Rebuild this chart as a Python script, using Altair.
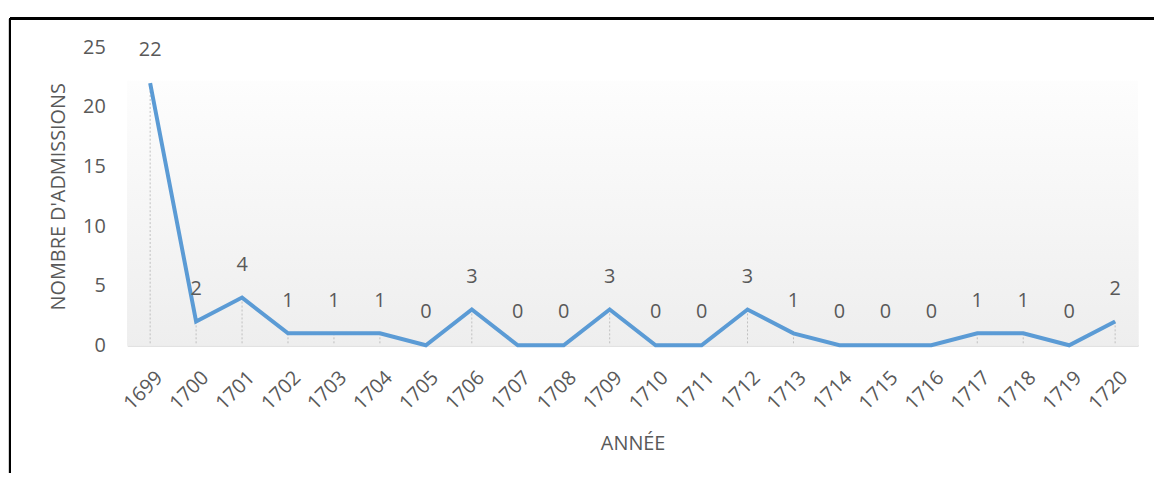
import altair as alt
import pandas as pd

years = [str(y) for y in range(1699, 1721)]
admissions = [22, 2, 4, 1, 1, 1, 0, 3, 0, 0, 3, 0, 0, 3, 1, 0, 0, 0, 1, 1, 0, 2]

df = pd.DataFrame({"annee": years, "n": admissions})

W, H = 1018, 300
FONT = "Open Sans"
TXT = "#595959"

xscale = alt.Scale(type="point", padding=0.5)
xenc = alt.X("annee:N", sort=years, scale=xscale,
             axis=alt.Axis(title="ANNÉE", labelAngle=-45, labelFontSize=20, labelColor=TXT,
                           labelFont=FONT, titleFont=FONT, titleFontSize=20, titleFontWeight="normal",
                           titleColor=TXT, domainColor="#d9d9d9", domainWidth=2, ticks=False,
                           labelPadding=22, labelOffset=2, titlePadding=20, grid=False))
yscale = alt.Scale(domain=[0, 25], nice=False)
yenc = alt.Y("n:Q", scale=yscale,
             axis=alt.Axis(title="NOMBRE D'ADMISSIONS", values=[0, 5, 10, 15, 20, 25],
                           labelFontSize=20, labelColor=TXT, labelFont=FONT, domain=False,
                           ticks=False, grid=False, labelPadding=22, titleFont=FONT,
                           titleFontSize=20, titleFontWeight="normal", titleColor=TXT,
                           titlePadding=14))

base = alt.Chart(df)

bg = base.mark_rect(fill=alt.Gradient(
    gradient="linear", x1=0, y1=0, x2=0, y2=1,
    stops=[alt.GradientStop(color="#fdfdfd", offset=0),
           alt.GradientStop(color="#eeeeee", offset=1)])).encode(
    x=alt.value(0), x2=alt.value(W), y=alt.datum(22.2), y2=alt.datum(0))

drops = base.mark_rule(color="#c0c0c0", strokeDash=[2, 2], strokeWidth=1).encode(
    x=xenc, y=alt.Y("n:Q", scale=yscale), y2=alt.datum(0))

line = base.mark_line(color="#5b9bd5", strokeWidth=4).encode(x=xenc, y=yenc)

labels = base.mark_text(dy=-33, fontSize=20, font=FONT, color=TXT).encode(
    x=xenc, y=alt.Y("n:Q", scale=yscale), text="n:Q")

border_top = base.mark_rule(color="black", strokeWidth=2).encode(
    x=alt.value(-118), x2=alt.value(W + 40), y=alt.value(-29))
border_left = base.mark_rule(color="black", strokeWidth=2).encode(
    x=alt.value(-118), y=alt.value(-29), y2=alt.value(H + 140))

chart = alt.layer(bg, drops, line, labels, border_top, border_left).properties(
    width=W, height=H,
    background="white",
    autosize=alt.AutoSizeParams(type="none"),
    padding={"left": 120, "top": 38, "right": 16, "bottom": 127},
).configure_view(strokeWidth=0, stroke="transparent")

chart.save("out.html", embed_options={"renderer": "svg", "actions": False})
